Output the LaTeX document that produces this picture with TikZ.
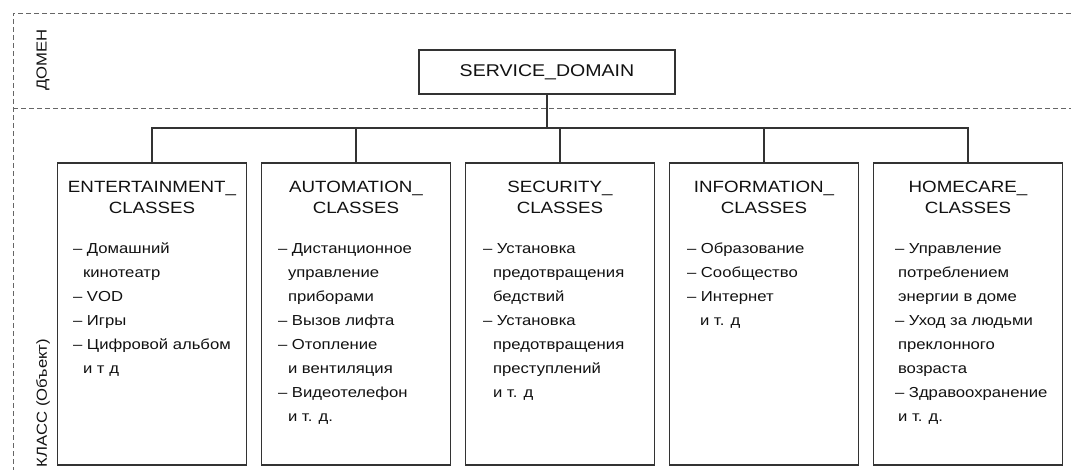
\documentclass[tikz,border=0pt]{standalone}
\usepackage{fontspec}
\setmainfont{Liberation Sans}[FakeStretch=1.15]
\definecolor{ink}{HTML}{111111}
\definecolor{linec}{HTML}{333333}
\definecolor{dashc}{HTML}{666666}
\tikzset{
  classbox/.style={draw=linec, line width=1.3pt, minimum width=189pt, minimum height=302pt, inner sep=0pt},
  sdbox/.style={draw=linec, line width=1.3pt, minimum width=256pt, minimum height=44pt, inner sep=0pt},
  conn/.style={draw=linec, line width=1.2pt},
  frameline/.style={draw=dashc, line width=0.9pt, dash pattern=on 5pt off 3pt},
  titletext/.style={anchor=base, inner sep=0pt, text=ink, font=\fontsize{16.3}{20}\selectfont},
  itemtext/.style={anchor=base west, inner sep=0pt, text=ink, font=\fontsize{14.5}{17}\selectfont},
  sidetext/.style={rotate=90, inner sep=0pt, text=ink, font=\fontsize{14.5}{17}\selectfont},
}
\newcommand\boxitems[3]{%
  \foreach \ind/\txt [count=\k] in {#3} {
    \path (#1.north west) ++({#2+\ind},{91+24*(\k-1)}) node[itemtext] (#1-\k) {\txt};
  }}
\newcommand\boxtitle[3]{%
  \path (#1.north) ++(0,30) node[titletext] (#1-ta) {#2};
  \path (#1.north) ++(0,51) node[titletext] (#1-tb) {#3};}
\begin{document}
\begin{tikzpicture}[x=1pt,y=-1pt]
\useasboundingbox (0,0) rectangle (1071,470);
% frame
\coordinate (ftr) at (1071,13);
\coordinate (ftl) at (13,13);
\coordinate (fbl) at (13,470);
\coordinate (fml) at (13,108);
\coordinate (fmr) at (1071,108);
\draw[frameline] (ftr) -- (ftl) -- (fbl);
\draw[frameline] (fml) -- (fmr);
\node[sidetext] (dom) at (43,60) {ДОМЕН};
\node[sidetext] (cls) at (43,403) {КЛАСС (Объект)};
% top
\node[sdbox] (sd) at (547,72) {};
\path (sd.center) ++(0,5) node[anchor=base, inner sep=0pt, text=ink, font=\fontsize{17}{20}\selectfont] (sdt) {SERVICE\_DOMAIN};
% class boxes
\node[classbox] (e) at (152,314) {};
\node[classbox] (a) at (356,314) {};
\node[classbox] (s) at (560,314) {};
\node[classbox] (i) at (764,314) {};
\node[classbox] (h) at (968,314) {};
% connectors
\coordinate (bus) at (0,128);
\draw[conn] (sd.south) -- (sd.south |- bus);
\draw[conn] (e.north) -- (e.north |- bus) -- (h.north |- bus) -- (h.north);
\draw[conn] (a.north) -- (a.north |- bus);
\draw[conn] (s.north) -- (s.north |- bus);
\draw[conn] (i.north) -- (i.north |- bus);
% titles
\boxtitle{e}{ENTERTAINMENT\_}{CLASSES}
\boxtitle{a}{AUTOMATION\_}{CLASSES}
\boxtitle{s}{SECURITY\_}{CLASSES}
\boxtitle{i}{INFORMATION\_}{CLASSES}
\boxtitle{h}{HOMECARE\_}{CLASSES}
% items
\boxitems{e}{16}{0/{– Домашний}, 10/{кинотеатр}, 0/{– VOD}, 0/{– Игры}, 0/{– Цифровой альбом}, 10/{и т д}}
\boxitems{a}{17}{0/{– Дистанционное}, 10/{управление}, 10/{приборами}, 0/{– Вызов лифта}, 0/{– Отопление}, 10/{и вентиляция}, 0/{– Видеотелефон}, 10/{и т. д.}}
\boxitems{s}{18}{0/{– Установка}, 10/{предотвращения}, 10/{бедствий}, 0/{– Установка}, 10/{предотвращения}, 10/{преступлений}, 10/{и т. д}}
\boxitems{i}{18}{0/{– Образование}, 0/{– Сообщество}, 0/{– Интернет}, 13/{и т. д}}
\boxitems{h}{22}{0/{– Управление}, 3/{потреблением}, 3/{энергии в доме}, 0/{– Уход за людьми}, 3/{преклонного}, 3/{возраста}, 0/{– Здравоохранение}, 3/{и т. д.}}
\end{tikzpicture}
\end{document}
